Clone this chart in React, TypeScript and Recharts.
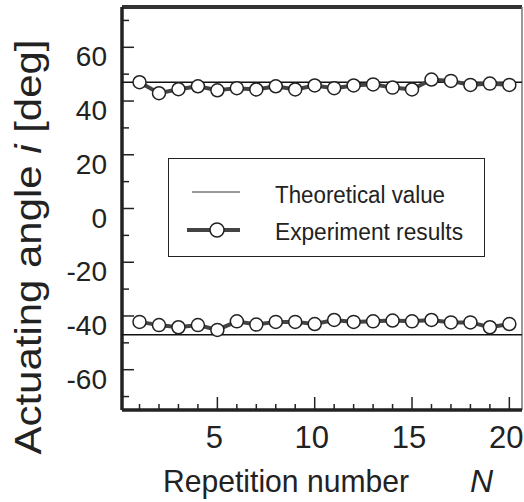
import { ComposedChart, Line, XAxis, YAxis, ReferenceLine, Legend, Label } from "recharts";

// Repetition number N
const REPS = [1, 2, 3, 4, 5, 6, 7, 8, 9, 10, 11, 12, 13, 14, 15, 16, 17, 18, 19, 20];
// Measured actuating angle, positive side [deg]
const UPPER = [47.0, 42.9, 44.4, 45.5, 44.0, 44.8, 44.3, 45.5, 44.3, 45.8, 44.8, 45.8, 46.2, 45.0, 44.3, 48.0, 47.5, 46.0, 46.5, 46.0];
// Measured actuating angle, negative side [deg]
const LOWER = [-42.2, -43.4, -44.2, -43.4, -45.2, -42.0, -43.2, -42.2, -42.2, -43.0, -41.5, -42.2, -42.0, -41.7, -42.0, -41.5, -42.4, -42.4, -44.2, -43.0];
// Theoretical values [deg]
const THEORY = [47, -47];

const X_DOMAIN = [0.1, 20.65];
const Y_DOMAIN = [-75, 75];
const X_TICKS = REPS;
const X_LABELS = [5, 10, 15, 20];
const Y_TICKS = [-70, -60, -50, -40, -30, -20, -10, 0, 10, 20, 30, 40, 50, 60, 70];
const Y_LABELS = [-60, -40, -20, 0, 20, 40, 60];

const FONT = "'Liberation Sans', Arial, sans-serif";
const INK = "#222";

const data = REPS.map((n, i) => ({ n, upper: UPPER[i], lower: LOWER[i] }));

// plot frame edges (px)
const PLOT_LEFT = 122;
const PLOT_TOP = 7;
const PLOT_BOTTOM = 410;

function XTick(props: any) {
    const { x, payload } = props;
    const y = PLOT_BOTTOM;
    const major = X_LABELS.includes(payload.value);
    return (
        <g>
            <line x1={x} x2={x} y1={y} y2={y - (major ? 13 : 6)} stroke={INK} strokeWidth={1.5} />
            {major && (
                <text x={x - 3} y={y + 38} textAnchor="middle" fontSize={31} fontFamily={FONT} fill={INK}>
                    {payload.value}
                </text>
            )}
        </g>
    );
}

function YTick(props: any) {
    const { y, payload } = props;
    const x = PLOT_LEFT;
    const major = Y_LABELS.includes(payload.value);
    return (
        <g>
            <line x1={x} x2={x + (major ? 12 : 7)} y1={y} y2={y} stroke={INK} strokeWidth={1.5} />
            {major && (
                <text x={x - 15} y={y + 19} textAnchor="end" fontSize={28} fontFamily={FONT} fill={INK}>
                    {payload.value}
                </text>
            )}
        </g>
    );
}

function LegendBox() {
    return (
        <div style={{ width: 317, height: 99, border: `1.5px solid ${INK}`, boxSizing: "border-box", background: "#fff" }}>
            <svg width={314} height={96} style={{ display: "block" }}>
                <line x1={23} x2={71} y1={33} y2={33} stroke="#333" strokeWidth={1} />
                <line x1={18} x2={71} y1={71} y2={71} stroke="#444" strokeWidth={4} />
                <circle cx={48} cy={71} r={7} fill="#fff" stroke={INK} strokeWidth={1.5} />
                <text x={106} y={44} fontSize={23} fontFamily={FONT} fill={INK} textLength={170} lengthAdjust="spacingAndGlyphs">
                    Theoretical value
                </text>
                <text x={106} y={81} fontSize={23} fontFamily={FONT} fill={INK} textLength={188} lengthAdjust="spacingAndGlyphs">
                    Experiment results
                </text>
            </svg>
        </div>
    );
}

export default function App() {
    return (
        <div style={{ position: "absolute", left: 0, top: 0, width: 524, height: 502, background: "#fff" }}>
            <ComposedChart width={524} height={502} data={data} margin={{ top: PLOT_TOP, right: 2, left: 0, bottom: 0 }}>
                <XAxis
                    dataKey="n"
                    type="number"
                    domain={X_DOMAIN}
                    ticks={X_TICKS}
                    interval={0}
                    height={92}
                    tickSize={0}
                    tickMargin={0}
                    tickLine={false}
                    tick={<XTick />}
                    axisLine={false}
                >
                    <Label
                        content={() => (
                            <g fontFamily={FONT} fill={INK}>
                                <text x={163} y={492} fontSize={32} textLength={246} lengthAdjust="spacingAndGlyphs">
                                    Repetition number
                                </text>
                                <text x={470} y={492} fontSize={32} fontStyle="italic">
                                    N
                                </text>
                            </g>
                        )}
                    />
                </XAxis>
                <YAxis
                    yAxisId="main"
                    type="number"
                    domain={Y_DOMAIN}
                    ticks={Y_TICKS}
                    interval={0}
                    width={PLOT_LEFT}
                    tickSize={0}
                    tickMargin={0}
                    tickLine={false}
                    tick={<YTick />}
                    axisLine={false}
                >
                    <Label
                        content={() => (
                            <text
                                x={41}
                                y={247}
                                transform="rotate(-90 41 247)"
                                textAnchor="middle"
                                fontSize={37}
                                fontFamily={FONT}
                                fill={INK}
                                textLength={415}
                                lengthAdjust="spacingAndGlyphs"
                            >
                                Actuating angle <tspan fontStyle="italic">i</tspan>  [deg]
                            </text>
                        )}
                    />
                </YAxis>
                {/* plot frame */}
                <ReferenceLine yAxisId="main" y={Y_DOMAIN[1]} stroke="#333" strokeWidth={4} ifOverflow="visible" />
                <ReferenceLine yAxisId="main" x={X_DOMAIN[1]} stroke="#777" strokeWidth={1.5} ifOverflow="visible" />
                <ReferenceLine yAxisId="main" y={Y_DOMAIN[0]} stroke={INK} strokeWidth={3.5} ifOverflow="visible" />
                <ReferenceLine yAxisId="main" x={X_DOMAIN[0]} stroke={INK} strokeWidth={3.5} ifOverflow="visible" />
                {THEORY.map((v) => (
                    <ReferenceLine key={v} yAxisId="main" y={v} stroke="#111" strokeWidth={1.5} />
                ))}
                <Line
                    yAxisId="main"
                    dataKey="upper"
                    stroke="#444"
                    strokeWidth={4}
                    dot={{ r: 6.5, fill: "#fff", stroke: INK, strokeWidth: 1.5 }}
                    isAnimationActive={false}
                />
                <Line
                    yAxisId="main"
                    dataKey="lower"
                    stroke="#444"
                    strokeWidth={4}
                    dot={{ r: 6.5, fill: "#fff", stroke: INK, strokeWidth: 1.5 }}
                    isAnimationActive={false}
                />
                <Legend
                    layout="horizontal"
                    verticalAlign="middle"
                    align="center"
                    content={() => <LegendBox />}
                    wrapperStyle={{ position: "absolute", left: 168, top: 158, width: 317, height: 99 }}
                />
            </ComposedChart>
        </div>
    );
}
